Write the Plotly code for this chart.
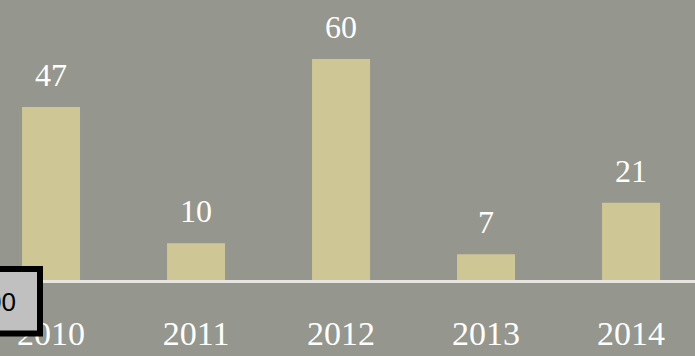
import plotly.graph_objects as go

# Yearly counts shown as bars
years = ["2010", "2011", "2012", "2013", "2014"]
counts = [47, 10, 60, 7, 21]

BG = "#95968d"
BAR = "#cec795"
SERIF = "Liberation Serif, DejaVu Serif, serif"

fig = go.Figure(
    go.Bar(
        x=years,
        y=counts,
        width=0.4,
        marker=dict(color=BAR, line=dict(width=0)),
        hoverinfo="skip",
    )
)

# Value labels floating above each bar (category index keeps the year
# strings from being read as numeric positions)
for i, v in enumerate(counts):
    fig.add_annotation(
        x=i, y=v, xref="x", yref="y",
        text=str(v), showarrow=False,
        yanchor="bottom", yshift=12,
        font=dict(family=SERIF, size=32, color="white"),
    )

# Partly visible boxed label in the lower-left corner
fig.add_shape(
    type="rect", xref="paper", yref="paper",
    x0=-0.08, x1=40 / 695, y0=-53.5 / 280, y1=11 / 280,
    fillcolor="#c0c0c0", line=dict(color="black", width=6),
    layer="above",
)
fig.add_annotation(
    xref="paper", yref="paper", x=18 / 695, y=-22 / 280,
    xanchor="right", yanchor="middle", showarrow=False,
    text="00", font=dict(family="Liberation Sans, Arial, sans-serif", size=26, color="black"),
)

fig.update_layout(
    width=695, height=356,
    margin=dict(l=0, r=0, t=0, b=76, pad=0, autoexpand=False),
    paper_bgcolor=BG, plot_bgcolor=BG,
    showlegend=False,
    xaxis=dict(
        type="category",
        range=[-0.352, 4.441],
        automargin=False,
        showgrid=False, zeroline=False,
        showline=True, linecolor="#e6e5df", linewidth=3,
        ticks="", ticklabelstandoff=21,
        tickfont=dict(family=SERIF, size=34, color="white"),
        fixedrange=True,
    ),
    yaxis=dict(
        range=[0, 76.02],
        automargin=False,
        visible=False, showgrid=False, zeroline=False,
        fixedrange=True,
    ),
)

fig.write_html("out.html")
